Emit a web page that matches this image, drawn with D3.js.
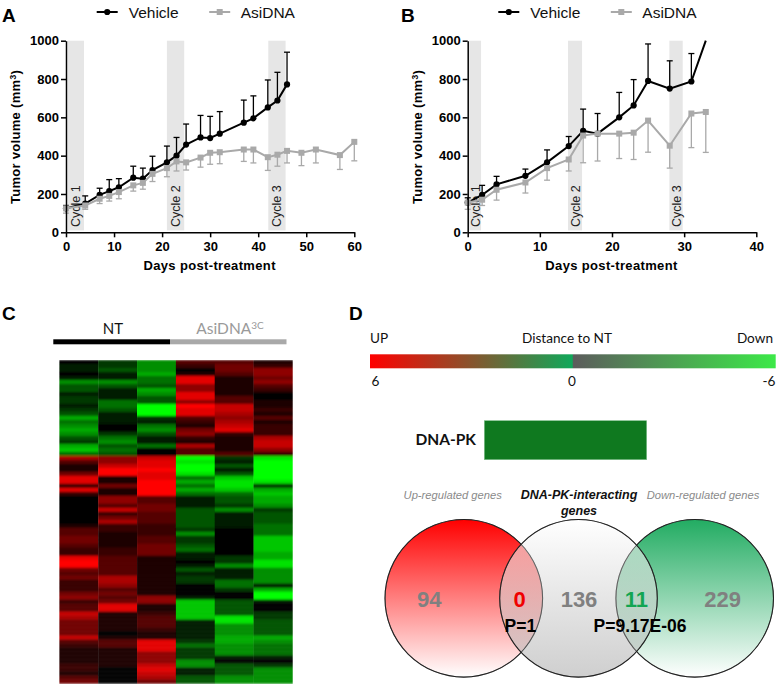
<!DOCTYPE html>
<html>
<head>
<meta charset="utf-8">
<script src="https://cdn.jsdelivr.net/npm/d3@7"></script>
<style>
  html, body { margin: 0; padding: 0; background: #fff; }
  svg { display: block; }
  text { font-family: "Liberation Sans", Arial, sans-serif; }
  .cal { font-family: Lato, "Open Sans", sans-serif; }
</style>
</head>
<body>
<div id="chart"></div>
<script>
// Panel A: tumor growth
const daysA = [0, 4, 7, 9, 11, 14, 16, 18, 21, 23, 25, 28, 30, 32, 37, 39, 42, 44, 46];
const vehicleA = [125, 150, 195, 215, 235, 285, 280, 325, 365, 400, 458, 495, 492, 515, 572, 595, 652, 688, 772];
const vehicleUpperA = [140, 190, 230, 275, 280, 345, 335, 397, 450, 495, 565, 610, 605, 630, 690, 712, 795, 835, 940];
const asiDaysA = [0, 4, 7, 9, 11, 14, 16, 18, 21, 23, 25, 28, 30, 32, 37, 39, 42, 44, 46, 49, 52, 57, 60];
const asiA = [125, 140, 175, 190, 210, 245, 258, 305, 335, 370, 365, 390, 415, 418, 432, 432, 392, 405, 425, 415, 432, 403, 472];
const asiLowerA = [100, 120, 150, 163, 175, 215, 225, 265, 290, 320, 325, 340, 355, 358, 370, 362, 323, 345, 362, 348, 362, 328, 373];
const cyclesA = [[0.35, 3.75], [21, 24.6], [42.1, 45.7]];

// Panel B: tumor growth
const daysB = [0, 2, 4, 8, 11, 14, 16, 18, 21, 23, 25, 28, 31, 33];
const vehicleB = [155, 195, 250, 295, 365, 450, 530, 515, 600, 662, 790, 750, 787, 1000];
const vehicleUpperB = [180, 245, 292, 330, 430, 500, 643, 620, 730, 797, 983, 895, 933, 1000];
const asiB = [155, 170, 222, 260, 335, 380, 505, 515, 515, 520, 583, 452, 620, 628];
const asiLowerB = [120, 140, 168, 205, 272, 320, 363, 372, 385, 380, 418, 335, 442, 417];
const cyclesB = [[0.2, 1.85], [13.9, 15.85], [27.95, 29.8]];

const yTicks = [0, 200, 400, 600, 800, 1000];
const xTicksA = [0, 10, 20, 30, 40, 50, 60];
const xTicksB = [0, 10, 20, 30, 40];
const cycleNames = ['Cycle 1', 'Cycle 2', 'Cycle 3'];

// Panel C: heatmap, one list per sample, -9 full green to 9 full red
const heat1 = [0,-1,-1,0,-1,-5,-3,-3,-1,-2,-2,-1,-2,-3,-6,-4,-5,-6,-5,-3,-2,-6,-7,-4,
  6,3,1,1,4,8,8,2,8,2,0,0,0,0,0,
  0,0,1,3,3,4,4,3,2,2,8,9,9,4,3,4,2,2,2,4,5,2,3,3,7,6,4,4,4,4,7,3,2,1,1,1,1,2,2,1,3,4];
const heat2 = [-2,-2,-3,-1,-1,-5,-3,-1,-1,-1,-4,-4,-3,-1,-1,-1,0,0,-2,-4,-5,-3,-4,-3,
  5,5,7,9,9,1,1,4,1,1,5,5,3,7,2,
  4,6,2,2,1,1,1,1,2,2,3,3,3,3,3,6,6,5,3,4,3,4,8,8,1,1,1,1,1,0,1,3,3,1,1,1,1,1,0,0,0,0];
const heat3 = [-5,-5,-5,-6,-4,-4,-3,-6,-5,-3,-3,-9,-9,-9,-2,-1,-4,-5,-3,-1,-1,-4,0,0,
  7,8,8,9,8,8,9,9,9,9,3,3,4,4,3,
  3,3,2,2,2,3,3,4,4,4,1,1,1,1,1,1,1,1,1,1,5,5,1,1,2,3,3,3,2,1,1,8,8,8,5,5,5,7,8,7,6,4];
const heat4 = [3,2,0,1,8,8,5,5,8,8,5,9,8,8,3,2,1,4,5,2,1,6,3,3,
  -9,-8,-9,-9,-8,-4,-6,-4,-6,-4,-1,-1,-1,-3,-3,
  -3,-3,-3,-2,-5,-2,-2,-3,-4,-1,-1,0,-1,-3,-1,-2,-2,0,0,0,-1,-7,-7,-7,-7,-7,-1,-1,-1,-1,-1,-2,-4,-2,-2,-2,-5,-5,-1,-1,-3,-3];
const heat5 = [3,4,4,3,1,1,1,1,1,3,3,7,7,6,5,6,7,8,2,1,1,1,1,3,
  -2,-1,-3,-1,-3,-7,-8,-8,-7,-4,-3,-3,-2,-5,-1,
  -1,-1,-1,0,0,0,0,0,0,0,-2,-2,-5,-1,-1,-1,-4,-4,-2,0,0,-3,-3,-3,-3,-8,-8,-5,-5,-5,-6,-6,-5,-5,-5,-1,0,-3,-3,-3,-5,-5];
const heat6 = [1,2,5,5,4,5,3,2,0,0,1,1,2,1,3,1,2,2,2,6,7,7,5,2,
  -8,-9,-9,-9,-9,-9,-8,-2,-6,-7,-6,-6,-5,-2,-3,
  -3,-3,-4,-4,-4,-7,-7,-7,-7,-6,-6,-8,-8,-5,-5,-5,-5,-1,-6,-9,-9,-1,0,0,-2,-2,-3,-3,-3,-3,-6,-5,-4,-4,-4,-1,0,-2,-5,-5,-5,-5];
const heatColumns = [heat1, heat2, heat3, heat4, heat5, heat6];

// Panel D: colour key and venn counts
const keyStops = [[6, '#ff0000'], [0.02, '#10a85a'], [-0.02, '#5c5c5c'], [-6, '#3ce948']];
const vennCounts = ['94', '0', '136', '11', '229'];
const vennPValues = ['P=1', 'P=9.17E-06'];

const svg = d3.select('#chart').append('svg').attr('width', 779).attr('height', 687);
const defs = svg.append('defs');

function panelLetter(label, x, y) {
  svg.append('text').attr('x', x).attr('y', y)
    .style('font-size', '19px').style('font-weight', 700).text(label);
}

function drawGrowth(o) {
  const x = d3.scaleLinear().domain([0, o.xMax]).range([o.left, o.right]);
  const y = d3.scaleLinear().domain([0, 1000]).range([232.3, 40.7]);
  const g = svg.append('g');

  g.selectAll('.band').data(o.cycles).enter().append('rect')
    .attr('x', d => x(d[0])).attr('width', d => x(d[1]) - x(d[0]))
    .attr('y', y(1000)).attr('height', y(10) - y(1000))
    .attr('fill', '#e6e6e6');

  g.selectAll('.cycle').data(o.cycles).enter().append('text')
    .attr('transform', d => `translate(${(x(d[0]) + x(d[1])) / 2 + 4.5},227) rotate(-90)`)
    .style('font-size', '12.5px').attr('fill', '#222')
    .text((d, i) => cycleNames[i]);

  // error bars, vehicle goes up and AsiDNA goes down
  const upper = o.days.map((d, i) => ({ x: d, from: o.vehicle[i], to: o.upper[i] })).filter(d => d.to < 1000);
  const lower = o.asiDays.map((d, i) => ({ x: d, from: o.asi[i], to: o.lower[i] }));
  function bars(data, color) {
    const b = g.append('g').attr('stroke', color).attr('stroke-width', 1.3).attr('fill', 'none');
    b.selectAll('.stem').data(data).enter().append('line')
      .attr('x1', d => x(d.x)).attr('x2', d => x(d.x))
      .attr('y1', d => y(d.from)).attr('y2', d => y(d.to));
    b.selectAll('.cap').data(data).enter().append('line')
      .attr('x1', d => x(d.x) - 3).attr('x2', d => x(d.x) + 3)
      .attr('y1', d => y(d.to)).attr('y2', d => y(d.to));
  }
  bars(lower, '#a9a9a9');
  bars(upper, '#000');

  const line = d3.line().x(d => x(d[0])).y(d => y(d[1]));
  const vehiclePts = o.days.map((d, i) => [d, o.vehicle[i]]);
  const asiPts = o.asiDays.map((d, i) => [d, o.asi[i]]);

  g.append('path').datum(vehiclePts).attr('d', line)
    .attr('fill', 'none').attr('stroke', '#000').attr('stroke-width', 2);
  g.selectAll('.dot').data(vehiclePts.filter(d => d[1] < 1000)).enter().append('circle')
    .attr('cx', d => x(d[0])).attr('cy', d => y(d[1])).attr('r', 3.1).attr('fill', '#000');

  g.append('path').datum(asiPts).attr('d', line)
    .attr('fill', 'none').attr('stroke', '#a9a9a9').attr('stroke-width', 2);
  g.selectAll('.sq').data(asiPts).enter().append('rect')
    .attr('x', d => x(d[0]) - 3).attr('y', d => y(d[1]) - 3)
    .attr('width', 6).attr('height', 6).attr('fill', '#a9a9a9');

  const axisX = g.append('g').attr('transform', 'translate(0,232.3)')
    .call(d3.axisBottom(x).tickValues(o.xTicks).tickSize(5).tickSizeOuter(0).tickPadding(4));
  const axisY = g.append('g').attr('transform', `translate(${o.left},0)`)
    .call(d3.axisLeft(y).tickValues(yTicks).tickFormat(d3.format('d')).tickSize(5).tickSizeOuter(0).tickPadding(2));
  [axisX, axisY].forEach(a => {
    a.selectAll('path, line').attr('stroke', '#000').attr('stroke-width', 1.5);
    a.selectAll('text').attr('fill', '#000')
      .style('font-family', '"Liberation Sans", Arial, sans-serif')
      .style('font-size', '13px').style('font-weight', 700);
  });

  g.append('text').attr('x', (o.left + o.right) / 2 - 0.5).attr('y', 270)
    .attr('text-anchor', 'middle').style('font-size', '13px').style('font-weight', 700)
    .style('letter-spacing', '0.35px').text('Days post-treatment');

  const yLabel = g.append('text')
    .attr('transform', `translate(${o.left - 46},137) rotate(-90)`)
    .attr('text-anchor', 'middle').style('font-size', '13px').style('font-weight', 700)
    .style('letter-spacing', '0.3px');
  yLabel.append('tspan').text('Tumor volume (mm');
  yLabel.append('tspan').attr('dy', -4).style('font-size', '8.5px').text('3');
  yLabel.append('tspan').attr('dy', 4).text(')');

  // legend
  const lg = g.append('g').attr('transform', `translate(${o.legendX},12)`);
  lg.append('line').attr('x1', 0).attr('x2', 21).attr('stroke', '#000').attr('stroke-width', 2);
  lg.append('circle').attr('cx', 10.5).attr('r', 3.1).attr('fill', '#000');
  lg.append('text').attr('x', 32).attr('y', 5.5).style('font-size', '15.5px').attr('fill', '#111').text('Vehicle');
  lg.append('line').attr('x1', 112.5).attr('x2', 133.5).attr('stroke', '#a9a9a9').attr('stroke-width', 2);
  lg.append('rect').attr('x', 120).attr('y', -3).attr('width', 6).attr('height', 6).attr('fill', '#a9a9a9');
  lg.append('text').attr('x', 144).attr('y', 5.5).style('font-size', '15.5px').attr('fill', '#111').text('AsiDNA');
}

drawGrowth({
  xMax: 60, left: 66, right: 354.3, xTicks: xTicksA, cycles: cyclesA, legendX: 96.7,
  days: daysA, vehicle: vehicleA, upper: vehicleUpperA,
  asiDays: asiDaysA, asi: asiA, lower: asiLowerA
});
drawGrowth({
  xMax: 40, left: 467.7, right: 756.3, xTicks: xTicksB, cycles: cyclesB, legendX: 498.3,
  days: daysB, vehicle: vehicleB, upper: vehicleUpperB,
  asiDays: daysB, asi: asiB, lower: asiLowerB
});

panelLetter('A', 2, 22);
panelLetter('B', 401, 22);
panelLetter('C', 2, 320);
panelLetter('D', 349, 320);

// --- Panel C heatmap ---
const heatColor = d3.scaleLinear().domain([-9, 0, 9]).range(['#00ff00', '#000000', '#ff0000']);
const heatX = d3.scaleBand().domain(d3.range(6)).range([59.4, 292.4]);
const heatY = d3.scaleBand().domain(d3.range(heat1.length)).range([360, 683.5]);

// the source image is a soft raster, a small blur gets the same look
defs.append('filter').attr('id', 'soft').attr('x', 0).attr('y', 0).attr('width', 1).attr('height', 1)
  .append('feGaussianBlur').attr('stdDeviation', '0.2 0.9');

const heat = svg.append('g').attr('filter', 'url(#soft)');
heatColumns.forEach((col, c) => {
  heat.selectAll(`.c${c}`).data(col).enter().append('rect')
    .attr('x', heatX(c)).attr('width', heatX.bandwidth() + 0.3)
    .attr('y', (d, r) => heatY(r)).attr('height', heatY.bandwidth() + 0.3)
    .attr('fill', d => heatColor(d));
});

svg.append('rect').attr('x', 53.3).attr('y', 339.3).attr('width', 116.7).attr('height', 5).attr('fill', '#000');
svg.append('rect').attr('x', 170).attr('y', 339.3).attr('width', 116.5).attr('height', 5).attr('fill', '#a9a9a9');
svg.append('text').attr('class', 'cal').attr('x', 113).attr('y', 334).attr('text-anchor', 'middle')
  .style('font-size', '15px').attr('fill', '#111').text('NT');
const asiHead = svg.append('text').attr('class', 'cal').attr('x', 230).attr('y', 334).attr('text-anchor', 'middle')
  .style('font-size', '15.5px').attr('fill', '#9a9a9a');
asiHead.append('tspan').text('AsiDNA');
asiHead.append('tspan').attr('dy', -5).style('font-size', '10px').text('3C');

// --- Panel D colour key ---
const keyX = d3.scaleLinear().domain([6, -6]).range([370, 775.7]);
const keyGrad = defs.append('linearGradient').attr('id', 'keyGrad');
keyGrad.selectAll('stop').data(keyStops).enter().append('stop')
  .attr('offset', d => (keyX(d[0]) - 370) / (775.7 - 370))
  .attr('stop-color', d => d[1]);
svg.append('rect').attr('x', 370).attr('y', 354.3).attr('width', 405.7).attr('height', 14).attr('fill', 'url(#keyGrad)');

function calText(t, x, y, anchor, size, weight) {
  return svg.append('text').attr('class', 'cal').attr('x', x).attr('y', y)
    .attr('text-anchor', anchor).style('font-size', size + 'px')
    .style('font-weight', weight || 400).attr('fill', '#111').text(t);
}
calText('UP', 370, 343, 'start', 13.6);
calText('Distance to NT', 567, 343, 'middle', 13.6);
calText('Down', 773, 343, 'end', 13.6);
calText('6', 375.5, 386, 'middle', 13.6);
calText('0', keyX(0) - 1, 386, 'middle', 13.6);
calText('-6', 775.5, 386, 'end', 13.6);

svg.append('rect').attr('x', 484.3).attr('y', 420.7).attr('width', 162.4).attr('height', 39)
  .attr('fill', '#0f791f').attr('stroke', '#7fbf8a').attr('stroke-width', 0.6);
calText('DNA-PK', 476, 445, 'end', 15.5, 700);

// --- Panel D venn ---
function vennGrad(id, stops) {
  const g = defs.append('linearGradient').attr('id', id).attr('x1', 0).attr('x2', 0).attr('y1', 0).attr('y2', 1);
  g.selectAll('stop').data(stops).enter().append('stop')
    .attr('offset', d => d[0]).attr('stop-color', d => d[1]).attr('stop-opacity', d => d[2]);
}
vennGrad('vennUp', [[0, '#ff0000', 1], [1, '#ffffff', 1]]);
vennGrad('vennDown', [[0, '#22ac62', 1], [1, '#ffffff', 1]]);
vennGrad('vennMid', [[0, '#ffffff', 0.6], [1, '#a8a8a8', 0.55]]);

const vennY = 598.3, vennR = 78.8;
const venn = [[463.8, 'vennUp'], [694.7, 'vennDown'], [578.5, 'vennMid']];
svg.selectAll('.venn').data(venn).enter().append('circle')
  .attr('cx', d => d[0]).attr('cy', vennY).attr('r', vennR)
  .attr('fill', d => `url(#${d[1]})`).attr('stroke', '#222').attr('stroke-width', 1.1);
// outlines stay visible through the overlap
svg.selectAll('.vennLine').data(venn).enter().append('circle')
  .attr('cx', d => d[0]).attr('cy', vennY).attr('r', vennR)
  .attr('fill', 'none').attr('stroke', '#222').attr('stroke-width', 0.7).attr('stroke-opacity', 0.6);

const countX = [429.3, 519.7, 579, 636.3, 722.7];
const countColor = ['#808080', '#f00000', '#808080', '#12a552', '#808080'];
svg.selectAll('.count').data(vennCounts).enter().append('text')
  .attr('x', (d, i) => countX[i]).attr('y', 606.5)
  .attr('text-anchor', 'middle').style('font-size', '22px').style('font-weight', 700)
  .attr('fill', (d, i) => countColor[i]).text(d => d);
svg.selectAll('.pval').data(vennPValues).enter().append('text')
  .attr('x', (d, i) => [520.3, 640][i]).attr('y', 631.5)
  .attr('text-anchor', 'middle').style('font-size', '17.5px').style('font-weight', 700)
  .attr('fill', '#000').text(d => d);

function vennTitle(t, x, y, color, weight, size) {
  svg.append('text').attr('x', x).attr('y', y).attr('text-anchor', 'middle')
    .style('font-size', size + 'px').style('font-style', 'italic').style('font-weight', weight)
    .attr('fill', color).text(t);
}
vennTitle('Up-regulated genes', 452.7, 499, '#8a8a8a', 400, 11.2);
vennTitle('DNA-PK-interacting', 579, 499, '#111', 700, 12.5);
vennTitle('genes', 579, 515, '#111', 700, 12.5);
vennTitle('Down-regulated genes', 703, 499, '#8a8a8a', 400, 11.2);
</script>
</body>
</html>
